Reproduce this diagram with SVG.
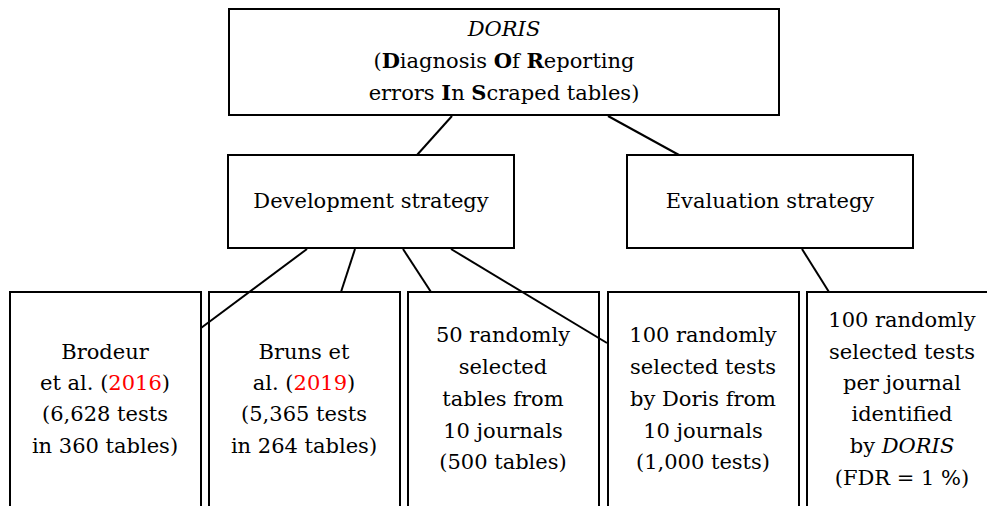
<svg xmlns="http://www.w3.org/2000/svg" width="987" height="506" viewBox="0 0 987 506">
<style>
.box{fill:#fff;stroke:#000;stroke-width:2}
.edge{stroke:#000;stroke-width:2;fill:none}
text{font-family:"DejaVu Serif","Liberation Serif",serif;font-size:21px;fill:#000;text-anchor:middle}
.red{fill:#ff0000}
.it{font-style:italic}
.b{font-weight:bold}
</style>
<rect width="987" height="506" fill="#fff"/>
<g id="doris">
<rect class="box" x="229" y="9" width="550" height="106"/>
<text x="504" y="36" class="it">DORIS</text>
<text x="504" y="68">(<tspan class="b">D</tspan>iagnosis <tspan class="b">O</tspan>f <tspan class="b">R</tspan>eporting</text>
<text x="504" y="100">errors <tspan class="b">I</tspan>n <tspan class="b">S</tspan>craped tables)</text>
</g>
<g id="dev">
<rect class="box" x="228" y="155" width="286" height="93"/>
<text x="371" y="208">Development strategy</text>
</g>
<g id="eval">
<rect class="box" x="627" y="155" width="286" height="93"/>
<text x="770" y="208">Evaluation strategy</text>
</g>
<g id="brodeur">
<rect class="box" x="10" y="292" width="191" height="230"/>
<text x="105" y="359">Brodeur</text>
<text x="105" y="390">et al. (<tspan class="red">2016</tspan>)</text>
<text x="105" y="421">(6,628 tests</text>
<text x="105" y="453">in 360 tables)</text>
</g>
<g id="bruns">
<rect class="box" x="209" y="292" width="191" height="230"/>
<text x="304" y="359">Bruns et</text>
<text x="304" y="390">al. (<tspan class="red">2019</tspan>)</text>
<text x="304" y="421">(5,365 tests</text>
<text x="304" y="453">in 264 tables)</text>
</g>
<g id="tables50">
<rect class="box" x="408" y="292" width="191" height="230"/>
<text x="503" y="342">50 randomly</text>
<text x="503" y="374">selected</text>
<text x="503" y="406">tables from</text>
<text x="503" y="438">10 journals</text>
<text x="503" y="469">(500 tables)</text>
</g>
<g id="tests100">
<rect class="box" x="608" y="292" width="191" height="230"/>
<text x="703" y="342">100 randomly</text>
<text x="703" y="374">selected tests</text>
<text x="703" y="406">by Doris from</text>
<text x="703" y="438">10 journals</text>
<text x="703" y="469">(1,000 tests)</text>
</g>
<g id="perjournal">
<rect class="box" x="807" y="292" width="191" height="230"/>
<text x="902" y="327">100 randomly</text>
<text x="902" y="359">selected tests</text>
<text x="902" y="390">per journal</text>
<text x="902" y="421">identified</text>
<text x="902" y="453">by <tspan class="it">DORIS</tspan></text>
<text x="902" y="485">(FDR = 1 %)</text>
</g>
<g id="connectors">
<line class="edge" x1="452" y1="116" x2="417" y2="155"/>
<line class="edge" x1="608" y1="116" x2="679" y2="155"/>
<line class="edge" x1="307" y1="249" x2="201" y2="328"/>
<line class="edge" x1="355" y1="249" x2="341" y2="292"/>
<line class="edge" x1="403" y1="249" x2="431" y2="292"/>
<line class="edge" x1="451" y1="249" x2="607" y2="343"/>
<line class="edge" x1="802" y1="249" x2="829" y2="292"/>
</g>
</svg>
